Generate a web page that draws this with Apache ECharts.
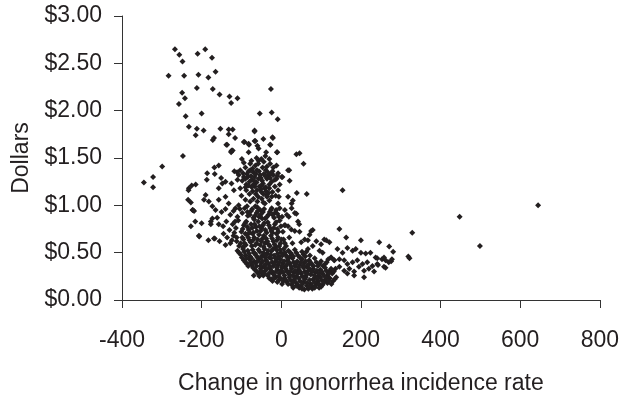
<!DOCTYPE html>
<html><head><meta charset="utf-8">
<script src="https://cdn.jsdelivr.net/npm/echarts@6/dist/echarts.min.js"></script>
<style>html,body{margin:0;padding:0;background:#fff}#c{width:622px;height:400px}</style>
</head><body><div id="c"></div>
<script>
// x: change in gonorrhea incidence rate, y: dollars
var xTicks = [-400, -200, 0, 200, 400, 600, 800];
var yTicks = [0, 0.5, 1, 1.5, 2, 2.5, 3];

var upperPts = [[-267,2.65],[-256,2.59],[-248,2.52],[-210,2.60],[-191,2.65],[-174,2.56],[-283,2.37],[-244,2.37],[-208,2.38],[-183,2.35],[-165,2.41],[-212,2.24],[-172,2.23],[-155,2.17],[-249,2.19],[-242,2.13],[-257,2.07],[-130,2.15],[-126,2.08],[-110,2.13],[-26,2.23],[-240,1.94],[-200,1.97],[-54,1.97],[-24,1.98],[-9,1.91],[-232,1.83],[-212,1.81],[-195,1.79],[-215,1.74],[-153,1.81],[-132,1.80],[-122,1.80],[-132,1.75],[-169,1.71],[-172,1.69],[-116,1.71],[-67,1.79],[-67,1.68],[-92,1.67],[-138,1.64],[-124,1.58],[-126,1.56],[-81,1.64],[-45,1.70],[-22,1.72],[-27,1.64],[-247,1.52],[-299,1.41],[-322,1.30],[-345,1.24],[-322,1.19],[46,1.55],[56,1.44],[-11,1.56],[20,1.37],[3,1.30],[39,1.13],[64,1.12],[154,1.16]];

var clusterPts = [[-136,1.64],[-126,1.57],[-122,1.58],[-94,1.67],[-82,1.65],[-65,1.68],[-60,1.63],[-57,1.60],[-67,1.78],[-21,1.71],[-28,1.64],[-10,1.56],[-38,1.56],[-57,1.47],[-50,1.49],[-30,1.49],[-82,1.56],[-99,1.49],[-94,1.45],[-78,1.44],[-90,1.40],[-103,1.37],[-111,1.35],[-118,1.36],[-107,1.32],[-94,1.30],[-86,1.33],[-78,1.37],[-65,1.42],[-61,1.37],[-53,1.32],[-57,1.28],[-67,1.30],[-47,1.40],[-39,1.37],[-32,1.32],[-26,1.33],[-20,1.40],[-28,1.44],[-8,1.34],[1,1.30],[-12,1.28],[17,1.37],[21,1.26],[38,1.54],[-70,1.35],[-74,1.27],[-62,1.24],[-48,1.26],[-44,1.33],[-36,1.28],[-30,1.22],[-42,1.18],[-55,1.20],[-70,1.22],[-80,1.25],[-88,1.22],[-98,1.26],[-84,1.30],[-72,1.39],[-58,1.44],[-44,1.46],[-36,1.41],[-24,1.25],[-16,1.20],[-20,1.32],[-12,1.42],[-4,1.22],[-50,1.14],[-64,1.12],[-36,1.11]];

var clusterPts2 = [[-96,1.34],[-90,1.28],[-82,1.36],[-76,1.31],[-68,1.26],[-64,1.33],[-56,1.36],[-51,1.29],[-46,1.23],[-40,1.31],[-34,1.35],[-28,1.29],[-22,1.36],[-16,1.27],[-10,1.31],[-88,1.16],[-80,1.12],[-72,1.15],[-66,1.20],[-58,1.09],[-52,1.17],[-45,1.12],[-38,1.15],[-30,1.18],[-22,1.14],[-14,1.10],[-6,1.09],[-60,1.04],[-70,1.07],[-45,1.03],[-30,1.05],[-100,1.10],[-110,1.27],[-62,1.50],[-40,1.52],[-75,1.47]];

var leftPts = [[-168,1.40],[-157,1.42],[-151,1.29],[-167,1.33],[-186,1.34],[-187,1.27],[-157,1.18],[-148,1.23],[-140,1.25],[-125,1.23],[-119,1.16],[-103,1.18],[-90,1.19],[-82,1.21],[-74,1.19],[-61,1.16],[-49,1.21],[-39,1.19],[-32,1.13],[-24,1.09],[-8,1.16],[17,1.09],[26,1.02],[-232,1.18],[-225,1.21],[-233,1.16],[-215,1.22],[-190,1.11],[-182,1.04],[-173,0.99],[-165,0.95],[-194,1.06],[-157,1.06],[-140,1.09],[-132,1.02],[-115,0.97],[-107,1.00],[-90,1.06],[-78,1.04],[-65,0.99],[-49,1.07],[-36,1.09],[-41,1.02],[-53,0.95],[-24,0.97],[-8,1.02],[-16,0.92],[9,0.95],[26,0.97],[-223,0.95],[-219,0.94],[-216,0.83],[-227,0.78],[-200,0.81],[-177,0.83],[-177,0.80],[-173,0.86],[-161,0.87],[-157,0.80],[-206,0.67],[-183,0.63],[-167,0.65],[-155,0.62],[-234,1.06],[-227,1.03],[-222,0.95],[-207,0.68],[-169,0.65]];

var midPts = [[-150,0.93],[-140,0.96],[-128,0.90],[-120,0.94],[-110,0.88],[-98,0.92],[-92,0.97],[-84,0.89],[-76,0.94],[-70,0.87],[-62,0.92],[-56,0.88],[-46,0.93],[-40,0.86],[-32,0.90],[-26,0.95],[-18,0.87],[-10,0.91],[-4,0.97],[2,0.88],[14,0.90],[-60,0.98],[-86,0.99],[-104,0.96],[-146,0.78],[-138,0.83],[-130,0.74],[-122,0.80],[-114,0.76],[-108,0.84],[-100,0.72],[-94,0.79],[-88,0.83],[-82,0.74],[-76,0.80],[-70,0.71],[-64,0.77],[-58,0.83],[-52,0.73],[-46,0.79],[-40,0.74],[-34,0.82],[-28,0.76],[-22,0.71],[-16,0.80],[-10,0.75],[-4,0.84],[4,0.72],[10,0.79],[19,0.88],[34,0.92],[17,0.78],[25,0.745],[34,0.73],[-68,0.85],[-48,0.86],[-90,0.70],[-118,0.71],[-136,0.66],[-128,0.60],[-120,0.68],[-112,0.62],[-106,0.57],[-98,0.66],[-92,0.60],[-86,0.69],[-80,0.63],[-74,0.57],[-68,0.66],[-62,0.60],[-56,0.69],[-50,0.62],[-44,0.56],[-38,0.65],[-32,0.59],[-26,0.68],[-20,0.62],[-14,0.56],[-8,0.66],[-2,0.60],[6,0.64],[12,0.57],[20,0.66],[28,0.60],[45,0.80],[42,0.83],[75,0.73],[71,0.69],[59,0.64],[50,0.61],[-96,0.56],[-72,0.70],[-44,0.68],[-12,0.70],[-140,0.58],[-145,0.70],[29,1.05],[38,0.91],[8,0.79],[46,0.72],[79,0.74],[67,0.63],[113,0.63]];

var midPts2 = [[-102,0.60],[-95,0.64],[-89,0.58],[-83,0.66],[-77,0.61],[-71,0.63],[-65,0.58],[-59,0.64],[-53,0.58],[-47,0.65],[-41,0.60],[-35,0.62],[-29,0.57],[-23,0.65],[-17,0.59],[-11,0.63],[-5,0.57],[1,0.64],[9,0.60],[-97,0.75],[-91,0.81],[-85,0.77],[-79,0.71],[-73,0.76],[-67,0.80],[-61,0.73],[-55,0.78],[-49,0.76],[-43,0.81],[-37,0.71],[-31,0.79],[-25,0.73],[-19,0.76],[-13,0.82],[-7,0.72],[-1,0.78],[-85,0.93],[-79,0.90],[-73,0.96],[-66,0.89],[-59,0.94],[-52,0.90],[-43,0.96],[-36,0.88],[-29,0.93],[-22,0.90],[-13,0.95],[-6,0.88],[-112,0.66],[-124,0.63],[-116,0.83]];

var lowPts = [[-110,0.52],[-102,0.48],[-96,0.54],[-90,0.47],[-84,0.52],[-78,0.46],[-72,0.53],[-66,0.49],[-60,0.45],[-54,0.51],[-48,0.47],[-42,0.54],[-36,0.49],[-30,0.45],[-24,0.52],[-18,0.47],[-12,0.53],[-6,0.46],[0,0.50],[6,0.54],[12,0.47],[18,0.52],[26,0.48],[34,0.53],[42,0.47],[52,0.51],[67,0.54],[79,0.57],[88,0.62],[96,0.52],[100,0.59],[104,0.50],[108,0.64],[121,0.61],[-94,0.42],[-86,0.38],[-80,0.43],[-74,0.37],[-68,0.41],[-62,0.36],[-56,0.43],[-50,0.39],[-44,0.35],[-38,0.42],[-32,0.38],[-26,0.44],[-20,0.36],[-14,0.41],[-8,0.37],[-2,0.43],[4,0.39],[10,0.35],[16,0.42],[22,0.38],[28,0.44],[34,0.36],[40,0.41],[46,0.37],[52,0.43],[58,0.39],[64,0.35],[70,0.42],[76,0.38],[84,0.44],[92,0.36],[100,0.41],[110,0.38],[118,0.43],[125,0.45],[133,0.42],[-40,0.45],[-10,0.44],[20,0.45],[60,0.46],[-66,0.32],[-58,0.28],[-52,0.33],[-46,0.27],[-40,0.31],[-34,0.26],[-28,0.33],[-22,0.29],[-16,0.25],[-10,0.32],[-4,0.28],[2,0.34],[8,0.26],[14,0.31],[20,0.27],[26,0.33],[32,0.29],[38,0.25],[44,0.32],[50,0.28],[56,0.34],[62,0.26],[68,0.31],[74,0.27],[80,0.33],[86,0.29],[92,0.25],[98,0.32],[104,0.28],[110,0.34],[116,0.26],[122,0.31],[128,0.28],[136,0.33],[-69,0.26],[-53,0.30],[-45,0.26],[-30,0.23],[-22,0.20],[-14,0.24],[-6,0.21],[2,0.17],[8,0.23],[14,0.19],[20,0.24],[26,0.16],[32,0.21],[38,0.18],[44,0.23],[50,0.14],[56,0.19],[62,0.24],[68,0.12],[74,0.17],[80,0.22],[86,0.15],[92,0.20],[98,0.24],[104,0.16],[110,0.21],[116,0.18],[122,0.23],[130,0.20],[138,0.24],[45,0.13],[58,0.11],[78,0.12],[95,0.13],[64,0.15],[88,0.18],[30,0.13]];

var lowPts2 = [[-106,0.50],[-99,0.45],[-93,0.51],[-87,0.44],[-81,0.49],[-75,0.44],[-69,0.50],[-63,0.47],[-57,0.53],[-51,0.45],[-45,0.50],[-39,0.47],[-33,0.52],[-27,0.48],[-21,0.54],[-15,0.44],[-9,0.49],[-3,0.53],[3,0.47],[9,0.50],[15,0.45],[23,0.50],[30,0.46],[38,0.50],[47,0.45],[56,0.48],[63,0.51],[72,0.47],[-90,0.40],[-83,0.36],[-77,0.40],[-71,0.34],[-65,0.39],[-59,0.41],[-53,0.36],[-47,0.41],[-41,0.37],[-35,0.40],[-29,0.35],[-23,0.40],[-17,0.38],[-11,0.34],[-5,0.40],[1,0.36],[7,0.41],[13,0.37],[19,0.40],[25,0.35],[31,0.40],[37,0.38],[43,0.34],[49,0.40],[55,0.36],[61,0.41],[67,0.37],[73,0.40],[81,0.36],[88,0.40],[96,0.38],[105,0.36],[114,0.40],[-62,0.30],[-55,0.25],[-49,0.30],[-43,0.28],[-37,0.33],[-31,0.28],[-25,0.31],[-19,0.27],[-13,0.30],[-7,0.25],[-1,0.31],[5,0.29],[11,0.33],[17,0.29],[23,0.30],[29,0.26],[35,0.31],[41,0.28],[47,0.30],[53,0.25],[59,0.30],[65,0.28],[71,0.33],[77,0.30],[83,0.26],[89,0.31],[95,0.28],[101,0.30],[107,0.26],[113,0.31],[119,0.28],[125,0.33],[132,0.30],[-25,0.22],[-18,0.23],[-10,0.19],[-2,0.23],[5,0.20],[11,0.21],[17,0.17],[23,0.21],[29,0.19],[35,0.23],[41,0.16],[47,0.20],[53,0.17],[59,0.22],[65,0.18],[71,0.21],[77,0.15],[83,0.19],[89,0.23],[95,0.17],[101,0.21],[107,0.19],[113,0.23],[119,0.20],[126,0.17],[134,0.22],[52,0.12],[84,0.13],[70,0.14],[100,0.14],[38,0.15]];

var tailPts = [[146,0.75],[163,0.66],[200,0.63],[246,0.61],[271,0.565],[281,0.51],[329,0.71],[319,0.46],[322,0.44],[141,0.54],[154,0.50],[166,0.55],[179,0.52],[187,0.54],[200,0.50],[212,0.49],[224,0.50],[237,0.45],[253,0.43],[262,0.42],[270,0.40],[278,0.43],[258,0.35],[125,0.45],[133,0.42],[146,0.43],[158,0.42],[166,0.38],[179,0.40],[191,0.42],[204,0.38],[216,0.40],[229,0.36],[241,0.38],[146,0.35],[158,0.31],[171,0.33],[183,0.30],[195,0.35],[208,0.31],[220,0.33],[233,0.30],[166,0.28],[183,0.26],[208,0.24],[258,0.45],[276,0.41],[241,0.44],[243,0.37],[262,0.34],[645,1.00],[448,0.88],[499,0.57]];

var allPts = upperPts.concat(clusterPts, clusterPts2, leftPts, midPts, midPts2, lowPts, lowPts2, tailPts);

var ink = '#231f20';
var font = "'Liberation Sans', Arial, Helvetica, sans-serif";
var chart = echarts.init(document.getElementById('c'), null, {renderer: 'canvas'});
chart.setOption({
  animation: false,
  backgroundColor: '#fff',
  grid: {left: 122, right: 21, top: 16, bottom: 96, containLabel: false},
  xAxis: {
    type: 'value', min: xTicks[0], max: xTicks[xTicks.length - 1], interval: 200,
    name: 'Change in gonorrhea incidence rate', nameLocation: 'middle', nameGap: 72,
    nameTextStyle: {color: ink, fontSize: 23, fontFamily: font},
    axisLine: {show: true, onZero: false, lineStyle: {color: '#333', width: 1}},
    axisTick: {show: true, inside: false, length: 8, lineStyle: {color: '#333'}},
    axisLabel: {color: ink, fontSize: 23, fontFamily: font, margin: 29},
    splitLine: {show: false}
  },
  yAxis: {
    type: 'value', min: yTicks[0], max: yTicks[yTicks.length - 1], interval: 0.5,
    name: 'Dollars', nameLocation: 'middle', nameGap: 84, nameRotate: 90,
    nameTextStyle: {color: ink, fontSize: 23, fontFamily: font},
    axisLine: {show: true, onZero: false, lineStyle: {color: '#333', width: 1}},
    axisTick: {show: true, inside: false, length: 8, lineStyle: {color: '#333'}},
    axisLabel: {color: ink, fontSize: 23, fontFamily: font, margin: 20,
      formatter: function (v) { return '$' + v.toFixed(2); }},
    splitLine: {show: false}
  },
  series: [{
    type: 'scatter', data: allPts, symbol: 'diamond', symbolSize: 6,
    itemStyle: {color: ink, opacity: 1}
  }]
});
</script></body></html>
